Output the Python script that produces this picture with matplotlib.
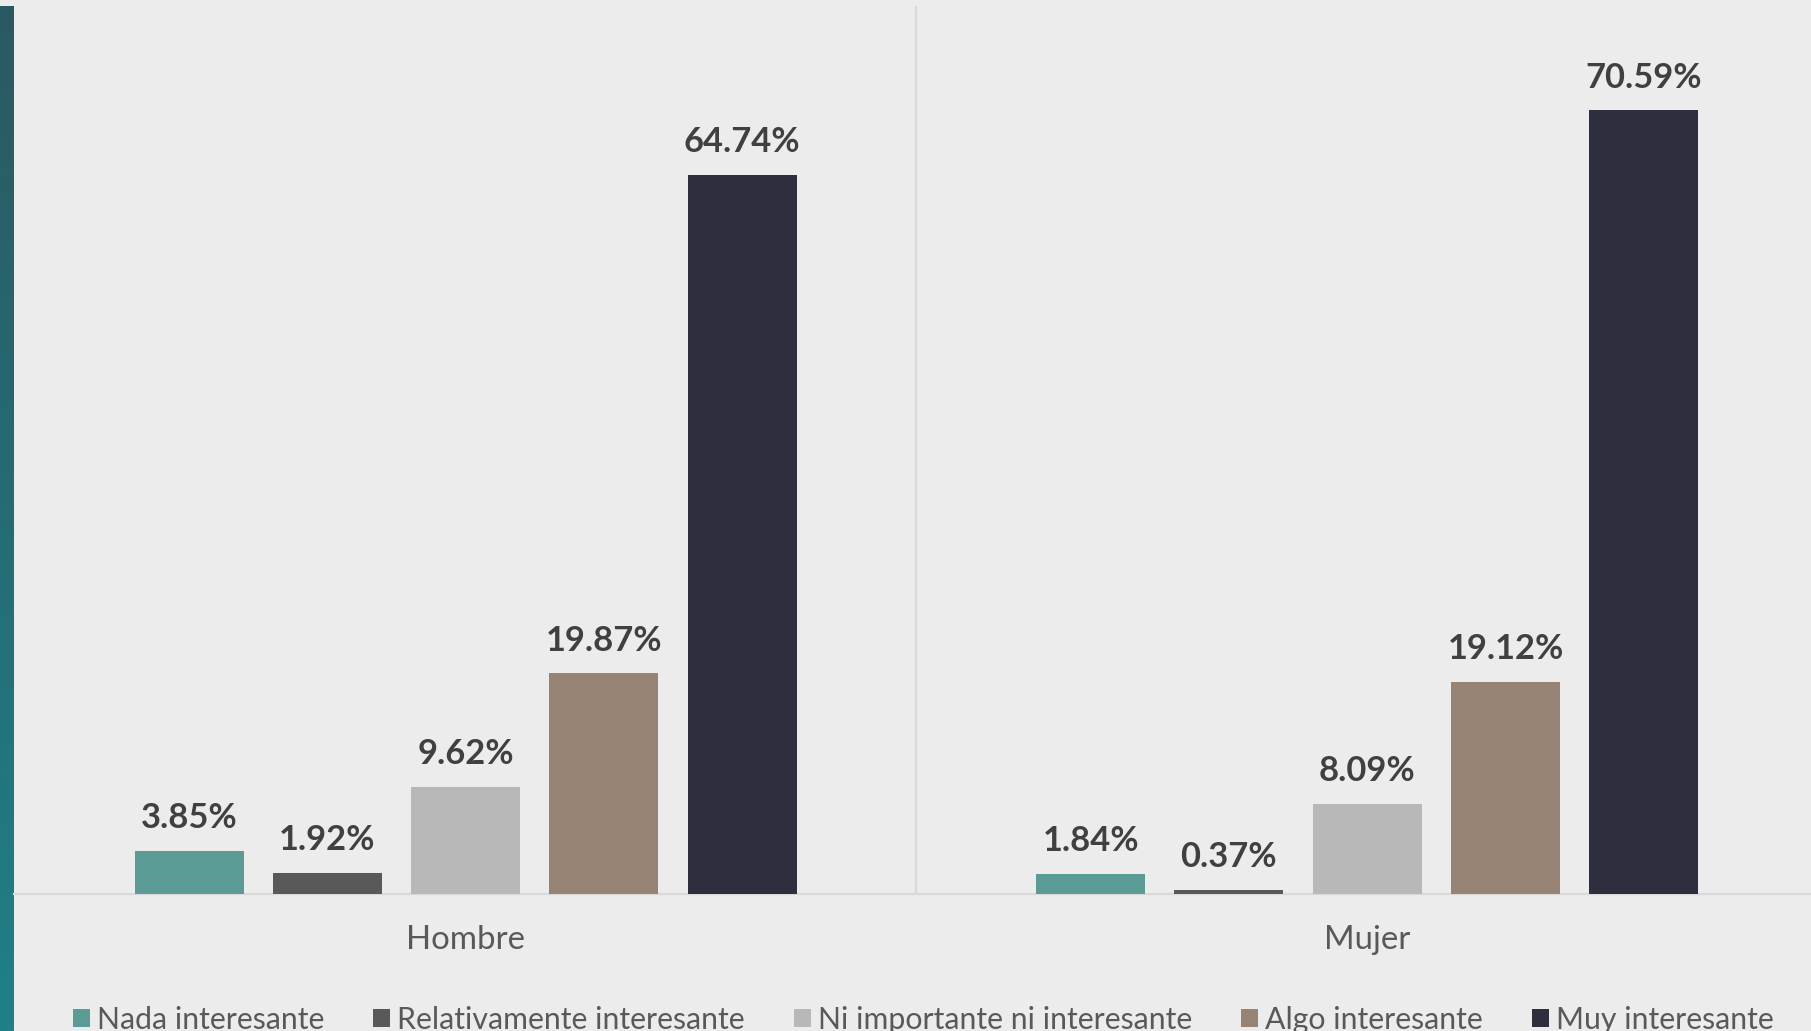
import numpy as np
import matplotlib
matplotlib.use("Agg")
import matplotlib.pyplot as plt
from matplotlib.colors import LinearSegmentedColormap

categories = ["Hombre", "Mujer"]
series = ["Nada interesante", "Relativamente interesante",
          "Ni importante ni interesante", "Algo interesante", "Muy interesante"]
hombre = [3.85, 1.92, 9.62, 19.87, 64.74]
mujer = [1.84, 0.37, 8.09, 19.12, 70.59]
colors = ["#5a9b95", "#595959", "#b8b8b8", "#968373", "#2d2f3e"]

plt.rcParams["font.family"] = ["Lato", "DejaVu Sans"]

W, H = 1811, 1031
fig = plt.figure(figsize=(W / 100, H / 100), dpi=100, facecolor="#ececec")

# left gradient strip
sax = fig.add_axes([0, 0, 14 / W, (H - 6) / H])
cmap = LinearSegmentedColormap.from_list("strip", ["#2b5961", "#1f8088"])
sax.imshow(np.linspace(0, 1, 256).reshape(-1, 1), aspect="auto", cmap=cmap,
           extent=[0, 1, 0, 1], origin="upper")
sax.axis("off")

ax = fig.add_axes([14 / W, (H - 894) / H, (W - 14) / W, 888 / H])
ax.set_facecolor("#ececec")

x = np.arange(len(categories))
step = 0.1534
width = 0.1209
for i, name in enumerate(series):
    vals = [hombre[i], mujer[i]]
    bars = ax.bar(x + (i - 2) * step, vals, width=width, color=colors[i],
                  label=name, zorder=3)
    for b, v in zip(bars, vals):
        ax.annotate(f"{v:.2f}%", (b.get_x() + b.get_width() / 2, v),
                    xytext=(0, 16.5), textcoords="offset points",
                    ha="center", va="baseline", fontsize=24.8,
                    fontweight="bold", color="#404040")

ax.set_xlim(-0.5009, 1.4922)
ax.set_ylim(0, 80)
ax.set_yticks([])
ax.set_xticks(x)
ax.set_xticklabels(categories, fontsize=23.8, color="#595959")
ax.tick_params(axis="x", length=0, pad=39.5)
for lbl in ax.get_xticklabels():
    lbl.set_verticalalignment("baseline")
for s in ["top", "left", "right"]:
    ax.spines[s].set_visible(False)
ax.spines["bottom"].set_color("#d9d9d9")
ax.spines["bottom"].set_linewidth(1.6)
ax.axvline(0.5, color="#d9d9d9", lw=1.6, zorder=1)

handles, labels = ax.get_legend_handles_labels()
fig.legend(handles, labels, loc="center", bbox_to_anchor=(0.5097, 0.011),
           ncol=5, frameon=False, fontsize=21.8, labelcolor="#595959",
           handlelength=0.57, handleheight=0.57, handletextpad=0.22,
           columnspacing=1.62, borderaxespad=0)

fig.savefig("out.png", dpi=100, facecolor=fig.get_facecolor())
